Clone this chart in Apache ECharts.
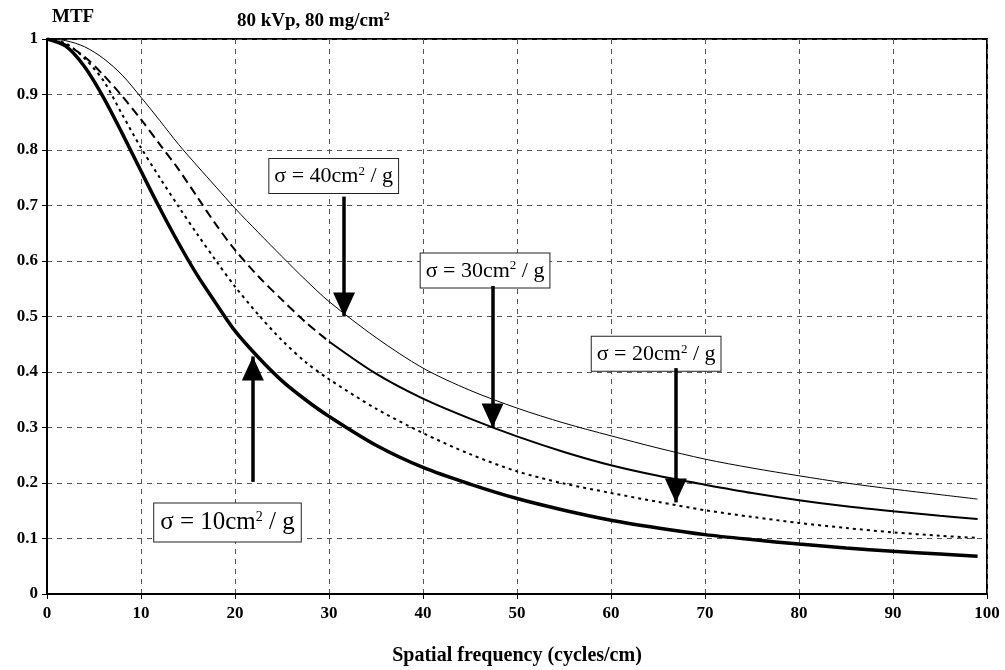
<!DOCTYPE html>
<html>
<head>
<meta charset="utf-8">
<script src="https://cdn.jsdelivr.net/npm/echarts@6.0.0/dist/echarts.min.js"></script>
<style>
  html, body { margin: 0; padding: 0; background: #fff; }
  #chart { width: 1005px; height: 670px; }
</style>
</head>
<body>
<div id="chart"></div>
<script>
// spatial frequency (cycles/cm)
const freq = [0, 2, 4, 6, 8, 10, 12, 14, 16, 18, 20, 22.5, 25, 27.5, 30, 35, 40, 45, 50, 55, 60, 65, 70, 75, 80, 85, 90, 95, 99];
// MTF for each mass attenuation coefficient
const mtf10 = [1, 0.987, 0.95, 0.895, 0.83, 0.762, 0.695, 0.632, 0.574, 0.523, 0.474, 0.426, 0.384, 0.35, 0.32, 0.268, 0.228, 0.198, 0.172, 0.151, 0.133, 0.119, 0.107, 0.098, 0.09, 0.083, 0.077, 0.072, 0.068];
const mtf20 = [1, 0.992, 0.965, 0.925, 0.864, 0.804, 0.75, 0.698, 0.648, 0.6, 0.554, 0.503, 0.457, 0.418, 0.387, 0.334, 0.29, 0.252, 0.221, 0.199, 0.182, 0.166, 0.151, 0.139, 0.128, 0.119, 0.111, 0.105, 0.101];
const mtf30 = [1, 0.99, 0.968, 0.935, 0.897, 0.855, 0.81, 0.765, 0.715, 0.665, 0.62, 0.572, 0.53, 0.49, 0.455, 0.397, 0.352, 0.316, 0.284, 0.256, 0.232, 0.213, 0.197, 0.182, 0.169, 0.158, 0.149, 0.141, 0.135];
const mtf40 = [1, 0.997, 0.986, 0.965, 0.935, 0.895, 0.853, 0.81, 0.771, 0.733, 0.695, 0.651, 0.608, 0.566, 0.527, 0.462, 0.407, 0.367, 0.335, 0.308, 0.285, 0.263, 0.243, 0.227, 0.213, 0.2, 0.189, 0.179, 0.171];
// sigma=30 curve is drawn dashed up to this frequency, solid after
const dashEnd = 30;

// annotations: label text, label anchor [x, y], arrow [x, yFrom, yTo]
const noteSigma = ['40', '30', '20', '10'];
const noteAt = [[30.5, 0.753], [46.6, 0.583], [64.8, 0.433], [19.2, 0.129]];
const arrowAt = [[31.6, 0.716, 0.5], [47.4, 0.555, 0.3], [66.9, 0.407, 0.165], [21.9, 0.202, 0.428]];

const serif = '"Liberation Serif", "DejaVu Serif", serif';
const pts = ys => freq.map((f, i) => [f, ys[i]]);

const chart = echarts.init(document.getElementById('chart'), null, { renderer: 'canvas' });

const series = [
  { name: 's40', type: 'line', data: pts(mtf40), lineStyle: { color: '#000', width: 1 } },
  { name: 's30a', type: 'line', data: pts(mtf30).filter(p => p[0] <= dashEnd), lineStyle: { color: '#000', width: 2, type: [9, 5] } },
  { name: 's30b', type: 'line', data: pts(mtf30).filter(p => p[0] >= dashEnd), lineStyle: { color: '#000', width: 2 } },
  { name: 's20', type: 'line', data: pts(mtf20), lineStyle: { color: '#000', width: 2, type: [3, 4] } },
  { name: 's10', type: 'line', data: pts(mtf10), lineStyle: { color: '#000', width: 3.5 } }
].map(s => Object.assign(s, { smooth: 0.3, symbol: 'none', silent: true }));

// arrows
series.push({
  type: 'line', data: [], silent: true,
  markLine: {
    silent: true, animation: false,
    symbol: ['none', 'triangle'],
    symbolSize: [22, 24],
    symbolOffset: [0, [0, 12]],
    lineStyle: { color: '#000', width: 3.5, type: 'solid' },
    label: { show: false },
    data: arrowAt.map(a => [{ coord: [a[0], a[1]] }, { coord: [a[0], a[2]] }])
  }
});

// label boxes
const noBorder = { textBorderWidth: 0, textBorderColor: 'transparent', textShadowBlur: 0 };
series.push({
  type: 'scatter', silent: true, symbolSize: 1,
  itemStyle: { color: '#fff', opacity: 1 },
  data: noteAt.map((p, i) => ({
    value: p,
    label: Object.assign({
      show: true, position: 'inside', color: '#000', opacity: 1,
      formatter: '{a|\u03c3 = ' + noteSigma[i] + 'cm}{s|2}{a| / g}',
      backgroundColor: '#fff', borderColor: '#222', borderWidth: 1,
      padding: i === 3 ? [7, 6, 6, 6] : [6, 5, 5, 5],
      rich: {
        a: Object.assign({ fontFamily: serif, fontSize: i === 3 ? 25 : 22, color: '#000' }, noBorder),
        s: Object.assign({ fontFamily: serif, fontSize: i === 3 ? 14 : 13, color: '#000', verticalAlign: 'top', padding: [0, 0, 10, 0] }, noBorder)
      }
    }, noBorder)
  }))
});

chart.setOption({
  animation: false,
  backgroundColor: '#fff',
  title: {
    text: '{t|80 kVp, 80 mg/cm}{s|2}',
    left: 232, top: 6,
    textStyle: {
      rich: {
        t: { fontFamily: serif, fontWeight: 'bold', fontSize: 19, color: '#000' },
        s: { fontFamily: serif, fontWeight: 'bold', fontSize: 12, color: '#000', verticalAlign: 'top', padding: [0, 0, 9, 0] }
      }
    }
  },
  grid: {
    left: 47, right: 18, top: 39, bottom: 76, outerBoundsMode: 'none', containLabel: false,
    show: true, borderColor: '#000', borderWidth: 2, backgroundColor: 'transparent'
  },
  xAxis: {
    type: 'value', min: 0, max: 100, interval: 10,
    name: 'Spatial frequency (cycles/cm)', nameLocation: 'middle', nameGap: 52,
    nameTextStyle: { fontFamily: serif, fontWeight: 'bold', fontSize: 20, color: '#000' },
    axisLine: { lineStyle: { color: '#000', width: 2 } },
    axisTick: { show: true, length: 5, lineStyle: { color: '#000' } },
    axisLabel: { fontFamily: serif, fontWeight: 'bold', fontSize: 17, color: '#000', margin: 11 },
    splitLine: { show: true, lineStyle: { color: '#555', width: 1, type: [5, 5] } }
  },
  yAxis: {
    type: 'value', min: 0, max: 1, interval: 0.1,
    name: 'MTF', nameLocation: 'end', nameGap: 12,
    nameTextStyle: { fontFamily: serif, fontWeight: 'bold', fontSize: 19, color: '#000', align: 'left', padding: [0, 0, 0, 5] },
    axisLine: { lineStyle: { color: '#000', width: 2 } },
    axisTick: { show: true, length: 5, lineStyle: { color: '#000' } },
    axisLabel: { fontFamily: serif, fontWeight: 'bold', fontSize: 17, color: '#000', margin: 9 },
    splitLine: { show: true, lineStyle: { color: '#555', width: 1, type: [5, 5] } }
  },
  series: series
});
</script>
</body>
</html>
